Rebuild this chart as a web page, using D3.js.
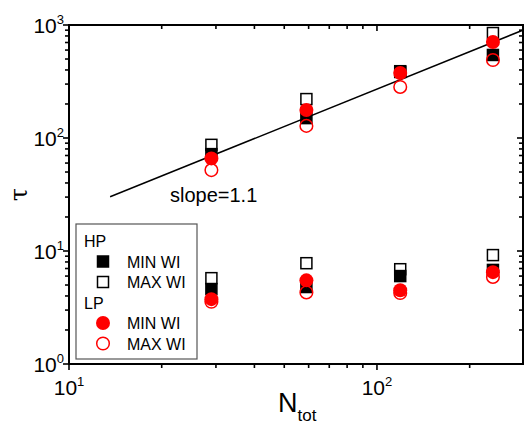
<!DOCTYPE html>
<html>
<head>
<meta charset="utf-8">
<script src="https://cdn.jsdelivr.net/npm/d3@7"></script>
<style>
  body { margin: 0; background: #fff; }
  svg { display: block; font-family: "Liberation Sans", Arial, sans-serif; }
</style>
</head>
<body>
<svg id="chart" width="525" height="424"></svg>
<script>
const nTot = [29, 59, 119, 238];

// upper cluster (top) and lower cluster (bottom) per series
const hpMinTop = [72, 150, 384, 543];
const hpMinBottom = [4.6, 4.8, 6.0, 6.8];
const hpMaxTop = [87, 221, 390, 849];
const hpMaxBottom = [5.75, 7.8, 6.9, 9.2];
const lpMinTop = [66, 177, 376, 707];
const lpMinBottom = [3.75, 5.5, 4.5, 6.5];
const lpMaxTop = [52, 128, 283, 490];
const lpMaxBottom = [3.55, 4.3, 4.25, 5.9];

const fitSlope = 1.1;
const fitPrefactor = 1.71;
const fitRange = [13.6, 300];

const xTickDecades = [1, 2];
const yTickDecades = [0, 1, 2, 3];

const series = [
  { name: "HP MIN WI", shape: "square", filled: true, color: "#000", top: hpMinTop, bottom: hpMinBottom },
  { name: "HP MAX WI", shape: "square", filled: false, color: "#000", top: hpMaxTop, bottom: hpMaxBottom },
  { name: "LP MIN WI", shape: "circle", filled: true, color: "#f00", top: lpMinTop, bottom: lpMinBottom },
  { name: "LP MAX WI", shape: "circle", filled: false, color: "#f00", top: lpMaxTop, bottom: lpMaxBottom }
];

const svg = d3.select("#chart");
const margin = { left: 69, right: 2, top: 25, bottom: 60 };
const W = 525, H = 424;
const x = d3.scaleLog().domain([10, 298]).range([margin.left, W - margin.right]);
const y = d3.scaleLog().domain([1, 1000]).range([H - margin.bottom, margin.top]);
const x0 = x.range()[0], x1 = x.range()[1];
const y0 = y.range()[0], y1 = y.range()[1];

svg.append("clipPath").attr("id", "plot-clip")
  .append("rect").attr("x", x0).attr("y", y1).attr("width", x1 - x0).attr("height", y0 - y1);

// minor/major ticks
function logTicks(domain) {
  const out = [];
  const lo = Math.floor(Math.log10(domain[0])), hi = Math.ceil(Math.log10(domain[1]));
  for (let e = lo; e <= hi; e++) {
    for (let m = 1; m < 10; m++) {
      const v = m * Math.pow(10, e);
      if (v >= domain[0] * 0.999 && v <= domain[1] * 1.001) out.push({ v, major: m === 1 });
    }
  }
  return out;
}

const axisG = svg.append("g").attr("stroke", "#000").attr("stroke-width", 1.6);
const xt = logTicks(x.domain());
const yt = logTicks(y.domain());

// bottom: outward, top: inward
xt.forEach((t) => {
  const px = x(t.v), len = t.major ? 6 : 4;
  axisG.append("line").attr("x1", px).attr("x2", px).attr("y1", y0).attr("y2", y0 + len);
  axisG.append("line").attr("x1", px).attr("x2", px).attr("y1", y1).attr("y2", y1 + len);
});
// left: outward, right: inward
yt.forEach((t) => {
  const py = y(t.v), len = t.major ? 6 : 4;
  axisG.append("line").attr("x1", x0).attr("x2", x0 - len).attr("y1", py).attr("y2", py);
  axisG.append("line").attr("x1", x1).attr("x2", x1 - len).attr("y1", py).attr("y2", py);
});

svg.append("rect")
  .attr("x", x0).attr("y", y1).attr("width", x1 - x0).attr("height", y0 - y1)
  .attr("fill", "none").attr("stroke", "#000").attr("stroke-width", 2);

// tick labels with superscripts
function powLabel(g, px, py, exp, anchor) {
  const t = g.append("text").attr("x", px).attr("y", py)
    .attr("text-anchor", anchor).attr("font-size", 21).attr("fill", "#000");
  t.append("tspan").text("10");
  t.append("tspan").attr("dy", -9).attr("font-size", 13).text(exp);
}
const labels = svg.append("g");
xTickDecades.forEach((e) => powLabel(labels, x(Math.pow(10, e)), 395, e, "middle"));
yTickDecades.forEach((e) => powLabel(labels, 64, y(Math.pow(10, e)) + 8, e, "end"));

// axis titles
svg.append("text")
  .attr("transform", `translate(27, ${(y0 + y1) / 2}) rotate(-90)`)
  .attr("text-anchor", "middle").attr("font-size", 24)
  .attr("font-family", "DejaVu Serif, serif").text("τ");
const xTitle = svg.append("text").attr("x", 278).attr("y", 412).attr("font-size", 27);
xTitle.append("tspan").text("N");
xTitle.append("tspan").attr("dy", 9).attr("font-size", 17).text("tot");

// fit line
const plot = svg.append("g").attr("clip-path", "url(#plot-clip)");
plot.append("line")
  .attr("x1", x(fitRange[0])).attr("y1", y(fitPrefactor * Math.pow(fitRange[0], fitSlope)))
  .attr("x2", x(fitRange[1])).attr("y2", y(fitPrefactor * Math.pow(fitRange[1], fitSlope)))
  .attr("stroke", "#000").attr("stroke-width", 1.5);

svg.append("text").attr("x", 170).attr("y", 202).attr("font-size", 20).text("slope=1.1");

function drawMarker(g, s, px, py) {
  if (s.shape === "square") {
    g.append("rect").attr("x", px - 5.5).attr("y", py - 5.5).attr("width", 11).attr("height", 11)
      .attr("fill", s.filled ? s.color : "none").attr("stroke", s.color).attr("stroke-width", 1.5);
  } else {
    g.append("circle").attr("cx", px).attr("cy", py).attr("r", s.filled ? 7 : 6.3)
      .attr("fill", s.filled ? s.color : "none").attr("stroke", s.color).attr("stroke-width", s.filled ? 0 : 1.5);
  }
}

const marks = svg.append("g");
series.forEach((s) => {
  nTot.forEach((n, i) => {
    drawMarker(marks, s, x(n), y(s.top[i]));
    drawMarker(marks, s, x(n), y(s.bottom[i]));
  });
});

// legend
const lg = svg.append("g");
lg.append("rect").attr("x", 76).attr("y", 224).attr("width", 121).attr("height", 135)
  .attr("fill", "#fff").attr("stroke", "#555").attr("stroke-width", 1.2);
const legendRows = [
  { label: "HP" }, series[0], series[1], { label: "LP" }, series[2], series[3]
];
legendRows.forEach((r, i) => {
  const ry = 241 + i * 20.5;
  if (r.label) {
    lg.append("text").attr("x", 84).attr("y", ry + 6).attr("font-size", 16).text(r.label);
  } else {
    drawMarker(lg, r, 103, ry);
    lg.append("text").attr("x", 127).attr("y", ry + 6).attr("font-size", 16).text(r.name.replace("HP ", "").replace("LP ", ""));
  }
});
</script>
</body>
</html>
